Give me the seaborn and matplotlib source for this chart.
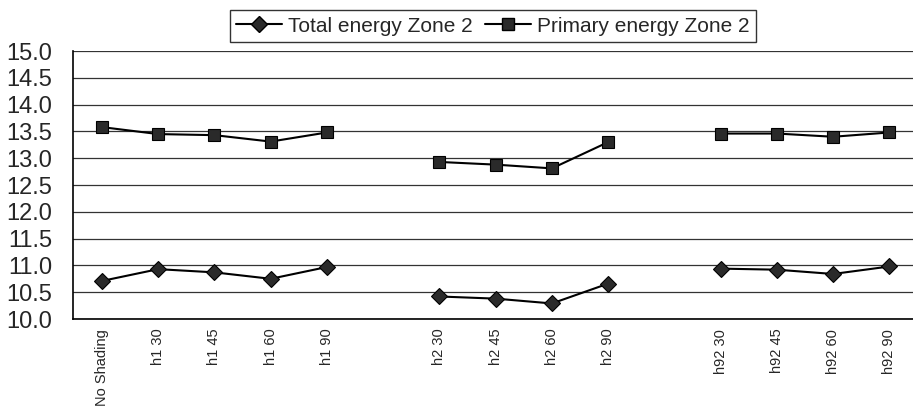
import numpy as np
import pandas as pd
import matplotlib
matplotlib.use("Agg")
import matplotlib.pyplot as plt
import seaborn as sns
from matplotlib.lines import Line2D

categories = ["No Shading", "h1 30", "h1 45", "h1 60", "h1 90", "",
              "h2 30", "h2 45", "h2 60", "h2 90", "",
              "h92 30", "h92 45", "h92 60", "h92 90"]
groups = [0, 0, 0, 0, 0, None, 1, 1, 1, 1, None, 2, 2, 2, 2]
total_energy = [10.71, 10.93, 10.87, 10.75, 10.97, None,
                10.42, 10.38, 10.29, 10.66, None,
                10.94, 10.92, 10.84, 10.98]
primary_energy = [13.58, 13.45, 13.43, 13.31, 13.48, None,
                  12.93, 12.88, 12.81, 13.30, None,
                  13.46, 13.46, 13.40, 13.48]
series_names = ["Total energy Zone 2", "Primary energy Zone 2"]
yticks = [10.0, 10.5, 11.0, 11.5, 12.0, 12.5, 13.0, 13.5, 14.0, 14.5, 15.0]

sns.set_theme(style="white")
plt.rcParams['font.family'] = ['Liberation Sans', 'DejaVu Sans']

rows = []
for i, (c, g, t, p) in enumerate(zip(categories, groups, total_energy, primary_energy)):
    if g is None:
        continue
    rows.append(dict(x=i, group=g, value=t, series=series_names[0]))
    rows.append(dict(x=i, group=g, value=p, series=series_names[1]))
df = pd.DataFrame(rows)

fig = plt.figure(figsize=(9.13, 4.11), dpi=100)
ax = fig.add_axes([73/913, 1 - 319/411, 1 - 73/913, (319 - 51)/411])

for name, mk, ms in [(series_names[0], "D", 8), (series_names[1], "s", 9)]:
    sub = df[df.series == name]
    sns.lineplot(data=sub, x="x", y="value", units="group", estimator=None,
                 color="black", lw=1.5, marker=mk, markersize=ms,
                 markerfacecolor="#2a2a2a", markeredgecolor="black",
                 markeredgewidth=0.8, ax=ax, legend=False)

ax.set_xlim(-0.515, 14.42)
ax.set_ylim(10.0, 15.0)
ax.set_yticks(yticks)
ax.set_yticklabels([f"{v:.1f}" for v in yticks], fontsize=17)
ax.yaxis.grid(True, color="#333333", lw=0.9)
ax.set_axisbelow(True)

pos = [i for i, c in enumerate(categories) if c]
ax.set_xticks(pos)
ax.set_xticklabels([c for c in categories if c], rotation=90, fontsize=10.5, va="top")
ax.set_xticks(np.arange(0.5, 14.5, 1.0), minor=True)
ax.tick_params(axis="x", which="major", length=0, pad=7)
ax.tick_params(axis="x", which="minor", length=4, width=1, color="black", direction="out")
ax.tick_params(axis="y", length=6, width=1, color="black", direction="out", pad=9)
ax.set_xlabel("")
ax.set_ylabel("")
for s in ["top", "right"]:
    ax.spines[s].set_visible(False)
for s in ["left", "bottom"]:
    ax.spines[s].set_color("black")
    ax.spines[s].set_linewidth(1.2)

handles = [Line2D([], [], color="black", lw=1.5, marker="D", markersize=8,
                  markerfacecolor="#2a2a2a", markeredgecolor="black"),
           Line2D([], [], color="black", lw=1.5, marker="s", markersize=9,
                  markerfacecolor="#2a2a2a", markeredgecolor="black")]
leg = fig.legend(handles, series_names, loc="center", bbox_to_anchor=(493/913, 1 - 26/411),
                 ncol=2, fontsize=15, frameon=True, fancybox=False,
                 handlelength=2.2, handletextpad=0.3, columnspacing=0.6,
                 borderpad=0.3, edgecolor="black")
leg.get_frame().set_linewidth(1.0)

fig.savefig("out.png", dpi=100)
